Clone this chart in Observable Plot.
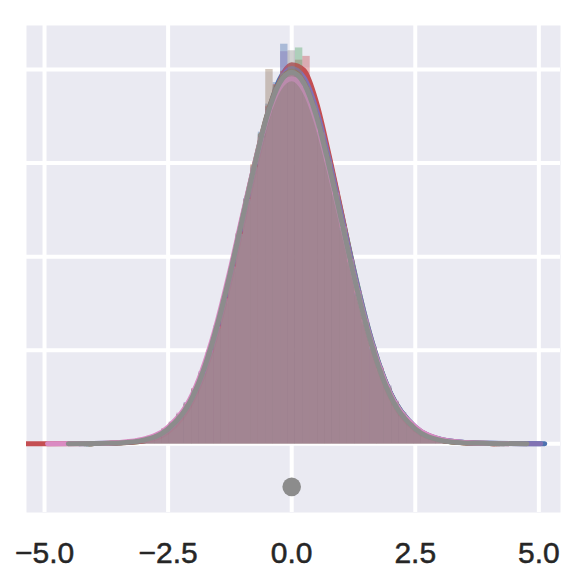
<!DOCTYPE html>
<html>
<head>
<meta charset="utf-8">
<script src="https://cdn.jsdelivr.net/npm/d3@7"></script>
<script src="https://cdn.jsdelivr.net/npm/@observablehq/plot@0.6"></script>
<style>
  html, body { margin: 0; padding: 0; background: #ffffff; }
  #chart { width: 586px; height: 588px; }
</style>
</head>
<body>
<div id="chart"></div>
<script>
// ---- data ----
const seriesNames = ["s1", "s2", "s3", "s4", "s5", "s6", "s7", "s8"];
const seriesColors = ["#4C72B0", "#DD8452", "#55A868", "#C44E52", "#8172B3", "#937860", "#DA8BC3", "#8C8C8C"];

const xTicks = [-5.0, -2.5, 0.0, 2.5, 5.0];
const yGrid = [0, 0.1, 0.2, 0.3, 0.4];

// histogram bins: width 0.15, centres from -3.15 to 3.15
const binWidth = 0.15;
const binCenters = [-3.15,-3.0,-2.85,-2.7,-2.55,-2.4,-2.25,-2.1,-1.95,-1.8,-1.65,-1.5,-1.35,-1.2,-1.05,-0.9,-0.75,-0.6,-0.45,-0.3,-0.15,0.0,0.15,0.3,0.45,0.6,0.75,0.9,1.05,1.2,1.35,1.5,1.65,1.8,1.95,2.1,2.25,2.4,2.55,2.7,2.85,3.0,3.15];

const histS1 = [.002,.004,.006,.011,.014,.023,.030,.044,.056,.077,.096,.126,.150,.188,.221,.262,.292,.333,.363,.386,.427,.405,.398,.379,.358,.336,.297,.262,.233,.190,.162,.127,.104,.077,.062,.042,.033,.021,.016,.009,.008,.004,.003];
const histS2 = [.003,.005,.007,.009,.016,.021,.031,.041,.058,.074,.098,.121,.154,.185,.224,.257,.298,.326,.361,.378,.398,.402,.392,.384,.357,.336,.298,.268,.227,.196,.158,.132,.100,.081,.058,.045,.031,.023,.014,.011,.006,.005,.002];
const histS3 = [.003,.003,.006,.010,.014,.022,.030,.043,.057,.076,.096,.124,.151,.187,.222,.261,.294,.331,.357,.383,.394,.401,.423,.388,.364,.330,.303,.264,.232,.193,.161,.129,.103,.078,.061,.043,.033,.021,.015,.010,.006,.004,.003];
const histS4 = [.002,.004,.006,.009,.015,.021,.030,.042,.056,.074,.095,.121,.149,.183,.219,.256,.292,.327,.360,.384,.398,.404,.401,.414,.366,.338,.306,.270,.234,.196,.163,.128,.101,.080,.059,.043,.031,.022,.014,.010,.007,.004,.002];
const histS5 = [.003,.004,.007,.010,.016,.022,.032,.042,.058,.075,.098,.122,.154,.186,.224,.261,.295,.330,.360,.380,.419,.398,.396,.383,.360,.334,.303,.268,.231,.195,.161,.131,.103,.080,.060,.045,.032,.023,.015,.011,.007,.005,.003];
const histS6 = [.003,.004,.008,.010,.015,.023,.031,.043,.059,.074,.098,.124,.154,.188,.225,.261,.298,.331,.400,.379,.393,.403,.410,.380,.358,.331,.300,.265,.228,.193,.158,.129,.101,.078,.059,.044,.031,.022,.015,.010,.006,.004,.002];
const histS7 = [.003,.005,.008,.011,.016,.023,.033,.044,.059,.077,.100,.125,.155,.189,.224,.261,.295,.327,.356,.377,.390,.395,.392,.378,.358,.332,.301,.268,.232,.197,.163,.133,.104,.081,.062,.046,.033,.023,.016,.011,.007,.005,.003];
const histS8 = [.003,.004,.007,.010,.015,.022,.031,.042,.057,.075,.097,.123,.153,.187,.223,.260,.296,.329,.359,.381,.396,.420,.394,.381,.361,.333,.301,.266,.230,.194,.160,.130,.102,.079,.060,.044,.032,.022,.015,.010,.007,.004,.003];

// KDE curves sampled on a shared grid, plus each curve's own support ends
const kdeGrid = [-4,-3.5,-3,-2.5,-2,-1.75,-1.5,-1.25,-1,-0.75,-0.5,-0.25,0,0.25,0.5,0.75,1,1.25,1.5,1.75,2,2.5,3,3.5,4];
const kdeS1 = [.0003,.001,.004,.015,.049,.082,.125,.178,.238,.297,.350,.389,.404,.391,.355,.303,.244,.185,.131,.087,.054,.018,.005,.0015,.0005];
const kdeS2 = [.0002,.001,.004,.016,.051,.084,.127,.180,.239,.296,.348,.384,.398,.388,.354,.301,.242,.182,.128,.084,.051,.016,.004,.001,.0002];
const kdeS3 = [.0002,.001,.003,.014,.048,.080,.122,.175,.234,.293,.346,.384,.400,.392,.360,.307,.248,.188,.133,.088,.054,.017,.004,.001,.0003];
const kdeS4 = [.0004,.001,.003,.013,.047,.079,.121,.174,.233,.292,.345,.386,.405,.399,.365,.310,.249,.186,.130,.085,.050,.015,.004,.001,.0002];
const kdeS5 = [.0002,.001,.004,.015,.050,.082,.125,.178,.237,.295,.347,.386,.401,.391,.357,.305,.246,.187,.133,.088,.054,.018,.005,.0015,.0006];
const kdeS6 = [.0002,.001,.004,.016,.052,.085,.129,.182,.241,.299,.351,.386,.398,.386,.350,.298,.239,.180,.127,.083,.050,.016,.004,.001,.0003];
const kdeS7 = [.0004,.0015,.005,.018,.054,.088,.132,.185,.243,.299,.348,.380,.390,.378,.344,.294,.238,.181,.129,.086,.053,.018,.005,.0015,.0004];
const kdeS8 = [.0003,.001,.004,.016,.051,.084,.128,.181,.240,.298,.350,.385,.397,.385,.350,.298,.240,.181,.128,.084,.051,.016,.004,.001,.0004];
const kdeMin = [-4.15, -4.10, -4.20, -5.40, -4.30, -4.10, -4.94, -4.52];
const kdeMax = [5.12, 4.15, 4.30, 4.10, 5.04, 4.20, 4.40, 4.76];

// summary point below the curves
const pointX = [0.0];
const pointY = [-0.046];

// ---- build tables ----
const hists = [histS1, histS2, histS3, histS4, histS5, histS6, histS7, histS8];
const kdes = [kdeS1, kdeS2, kdeS3, kdeS4, kdeS5, kdeS6, kdeS7, kdeS8];

const marks = [
  Plot.frame({fill: "#EAEAF2", stroke: null}),
  Plot.ruleX(xTicks, {stroke: "#ffffff", strokeWidth: 4}),
  Plot.ruleY(yGrid, {stroke: "#ffffff", strokeWidth: 4})
];

seriesNames.forEach((name, i) => {
  const histRows = binCenters.map((c, j) => ({x1: c - binWidth / 2, x2: c + binWidth / 2, y: hists[i][j]}));
  const kdeRows = [{x: kdeMin[i], y: 0}]
    .concat(kdeGrid.map((g, j) => ({x: g, y: kdes[i][j]})))
    .concat([{x: kdeMax[i], y: 0}]);
  marks.push(Plot.rectY(histRows, {x1: "x1", x2: "x2", y: "y", fill: seriesColors[i], fillOpacity: 0.4, inset: 0}));
  marks.push(Plot.line(kdeRows, {x: "x", y: "y", stroke: seriesColors[i], strokeWidth: 5, curve: "monotone-x", clip: true}));
});

marks.push(Plot.dot(pointX.map((x, i) => ({x, y: pointY[i]})), {x: "x", y: "y", r: 9.3, fill: "#8C8C8C", stroke: null}));
marks.push(Plot.axisX(xTicks, {tickSize: 0, tickPadding: 29, fontSize: 30, tickFormat: d3.format(".1f"), textStroke: "#262626", textStrokeWidth: 0.5, fill: "#262626"}));

const chart = Plot.plot({
  width: 586,
  height: 588,
  marginLeft: 26,
  marginRight: 26,
  marginTop: 25,
  marginBottom: 76,
  style: {fontFamily: "'Liberation Sans', Arial, sans-serif", color: "#262626", background: "#ffffff", overflow: "visible"},
  x: {domain: [-5.365, 5.438]},
  y: {domain: [-0.0734, 0.447], axis: null},
  marks
});
document.getElementById("chart").appendChild(chart);
</script>
</body>
</html>
